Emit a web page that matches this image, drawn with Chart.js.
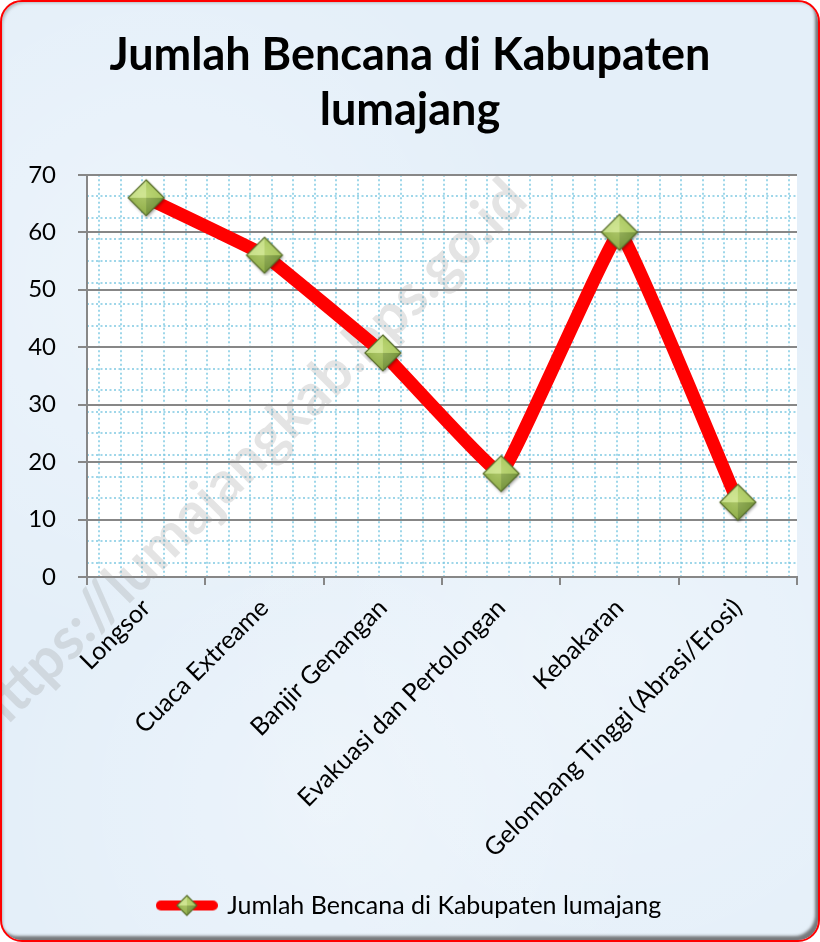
<!DOCTYPE html>
<html>
<head>
<meta charset="utf-8">
<script src="https://cdn.jsdelivr.net/npm/chart.js@4.4.1/dist/chart.umd.min.js"></script>
<style>
  html, body { margin: 0; padding: 0; background: #ffffff; }
  #wrap { position: relative; width: 820px; height: 942px; overflow: hidden; }
  #bg { position: absolute; left: 0; top: 0; width: 820px; height: 942px; box-sizing: border-box;
        border-radius: 22px;
        background:
          radial-gradient(circle at 20% 30%, rgba(255,255,255,0.35), rgba(255,255,255,0) 40%),
          radial-gradient(circle at 75% 70%, rgba(255,255,255,0.3), rgba(255,255,255,0) 45%),
          radial-gradient(circle at 40% 85%, rgba(255,255,255,0.3), rgba(255,255,255,0) 35%),
          #e4eff9; }
  #frame { position: absolute; left: 0; top: 0; width: 820px; height: 942px; box-sizing: border-box;
        border: 2.5px solid #ff0000; border-radius: 22px; pointer-events: none;
        box-shadow: inset -4px -5px 3px -1px rgba(80,80,80,0.75), inset 3px 3px 3px -2px rgba(120,120,120,0.45); }
  canvas { position: absolute; left: 0; top: 0; }
</style>
</head>
<body>
<div id="wrap">
  <div id="bg"></div>
  <canvas id="c" width="820" height="942"></canvas>
  <div id="frame"></div>
</div>
<script>
// ---- data ----
const categories = ['Longsor', 'Cuaca Extreame', 'Banjir Genangan', 'Evakuasi dan Pertolongan', 'Kebakaran', 'Gelombang Tinggi (Abrasi/Erosi)'];
const values = [66, 56, 39, 18, 60, 13];
const seriesName = 'Jumlah Bencana di Kabupaten lumajang';
const titleLines = ['Jumlah Bencana di Kabupaten', 'lumajang'];
const yMin = 0, yMax = 70, yStep = 10;
const watermarkText = 'https://lumajangkab.bps.go.id';

// ---- marker images ----
function drawDiamond(ctx, cx, cy, r) {
  const T = [cx, cy - r], R = [cx + r, cy], B = [cx, cy + r], L = [cx - r, cy];
  const facets = [
    [T, L, '#c4dd86'],
    [T, R, '#a8c75e'],
    [L, B, '#8fae48'],
    [R, B, '#73923a']
  ];
  facets.forEach(f => {
    ctx.beginPath();
    ctx.moveTo(cx, cy); ctx.lineTo(f[0][0], f[0][1]); ctx.lineTo(f[1][0], f[1][1]); ctx.closePath();
    ctx.fillStyle = f[2]; ctx.fill();
  });
  const g = ctx.createRadialGradient(cx - r * 0.2, cy - r * 0.2, 0, cx, cy, r);
  g.addColorStop(0, 'rgba(230,245,170,0.35)');
  g.addColorStop(1, 'rgba(230,245,170,0)');
  ctx.beginPath();
  ctx.moveTo(T[0], T[1]); ctx.lineTo(R[0], R[1]); ctx.lineTo(B[0], B[1]); ctx.lineTo(L[0], L[1]); ctx.closePath();
  ctx.fillStyle = g; ctx.fill();
  ctx.lineWidth = 1.2; ctx.strokeStyle = '#566b2a'; ctx.stroke();
}
const marker = document.createElement('canvas');
marker.width = 42; marker.height = 42;
(function () {
  const c = marker.getContext('2d');
  c.save();
  c.shadowColor = 'rgba(0,0,0,0.35)'; c.shadowBlur = 3; c.shadowOffsetX = 1; c.shadowOffsetY = 2;
  c.beginPath(); c.moveTo(21, 3); c.lineTo(39, 21); c.lineTo(21, 39); c.lineTo(3, 21); c.closePath();
  c.fillStyle = '#8fae48'; c.fill();
  c.restore();
  drawDiamond(c, 21, 21, 18);
})();
const legendImg = document.createElement('canvas');
legendImg.width = 62; legendImg.height = 24;
(function () {
  const c = legendImg.getContext('2d');
  c.lineCap = 'round'; c.lineWidth = 10; c.strokeStyle = '#ff0000';
  c.beginPath(); c.moveTo(5, 12); c.lineTo(57, 12); c.stroke();
  drawDiamond(c, 31, 12, 10);
})();

// ---- plugins (decoration) ----
const plotBg = {
  id: 'plotBg',
  beforeDraw(chart) {
    const { ctx, chartArea: a } = chart;
    ctx.save();
    ctx.fillStyle = '#ffffff';
    ctx.fillRect(a.left, a.top, a.right - a.left, a.bottom - a.top);
    ctx.strokeStyle = 'rgba(125,200,225,0.75)';
    ctx.lineWidth = 2;
    ctx.setLineDash([2, 2.5]);
    const step = 21.55;
    for (let x = a.left + 12.3; x < a.right - 1; x += step) {
      ctx.beginPath(); ctx.moveTo(Math.round(x), a.top); ctx.lineTo(Math.round(x), a.bottom); ctx.stroke();
    }
    for (let y = a.top + step; y < a.bottom - 1; y += step) {
      ctx.beginPath(); ctx.moveTo(a.left, Math.round(y)); ctx.lineTo(a.right, Math.round(y)); ctx.stroke();
    }
    ctx.restore();
  }
};
const watermark = {
  id: 'watermark',
  beforeDatasetsDraw(chart) {
    const ctx = chart.ctx;
    ctx.save();
    ctx.translate(530, 203);
    ctx.rotate(-Math.PI / 4);
    ctx.font = 'bold 58px Lato';
    ctx.textAlign = 'right';
    ctx.textBaseline = 'alphabetic';
    ctx.fillStyle = 'rgba(150,150,150,0.26)';
    ctx.fillText(watermarkText, 0, 0);
    ctx.restore();
  }
};

const gray = '#878787';
new Chart(document.getElementById('c'), {
  type: 'line',
  data: {
    labels: categories,
    datasets: [{
      label: seriesName,
      data: values,
      borderColor: '#ff0000',
      borderWidth: 13,
      borderJoinStyle: 'round',
      tension: 0.06,
      clip: false,
      pointStyle: marker,
      pointRadius: 18,
      pointHoverRadius: 18,
      backgroundColor: '#ff0000'
    }]
  },
  options: {
    responsive: false,
    animation: false,
    events: [],
    layout: { autoPadding: false, padding: { left: 23, right: 23, top: 0, bottom: 14 } },
    plugins: {
      title: {
        display: true,
        text: titleLines,
        color: '#000000',
        font: { family: 'Lato', size: 45, weight: 'bold', lineHeight: 1.22 },
        padding: { top: 28, bottom: 37 }
      },
      legend: {
        position: 'bottom',
        labels: {
          usePointStyle: true,
          pointStyleWidth: 56,
          color: '#000000',
          font: { family: 'Lato', size: 25 },
          padding: 10,
          generateLabels(chart) {
            return Chart.defaults.plugins.legend.labels.generateLabels(chart).map(l => Object.assign(l, { pointStyle: legendImg }));
          }
        }
      },
      tooltip: { enabled: false }
    },
    scales: {
      x: {
        offset: true,
        afterFit(s) { s.height = 306; s.paddingRight = 0; s.paddingLeft = 0; },
        grid: { offset: true, drawOnChartArea: false, drawTicks: true, tickLength: 8, color: gray, lineWidth: 2 },
        border: { color: gray, width: 2 },
        ticks: { color: '#000000', font: { family: 'Lato', size: 25 }, minRotation: 45, maxRotation: 45, padding: 8, autoSkip: false }
      },
      y: {
        min: yMin, max: yMax,
        afterFit(s) { s.width = 64; },
        grid: { color: gray, lineWidth: 2, tickLength: 9 },
        border: { color: gray, width: 2 },
        ticks: { stepSize: yStep, color: '#000000', font: { family: 'Lato', size: 24 }, padding: 22 }
      }
    }
  },
  plugins: [plotBg, watermark]
});
</script>
</body>
</html>
